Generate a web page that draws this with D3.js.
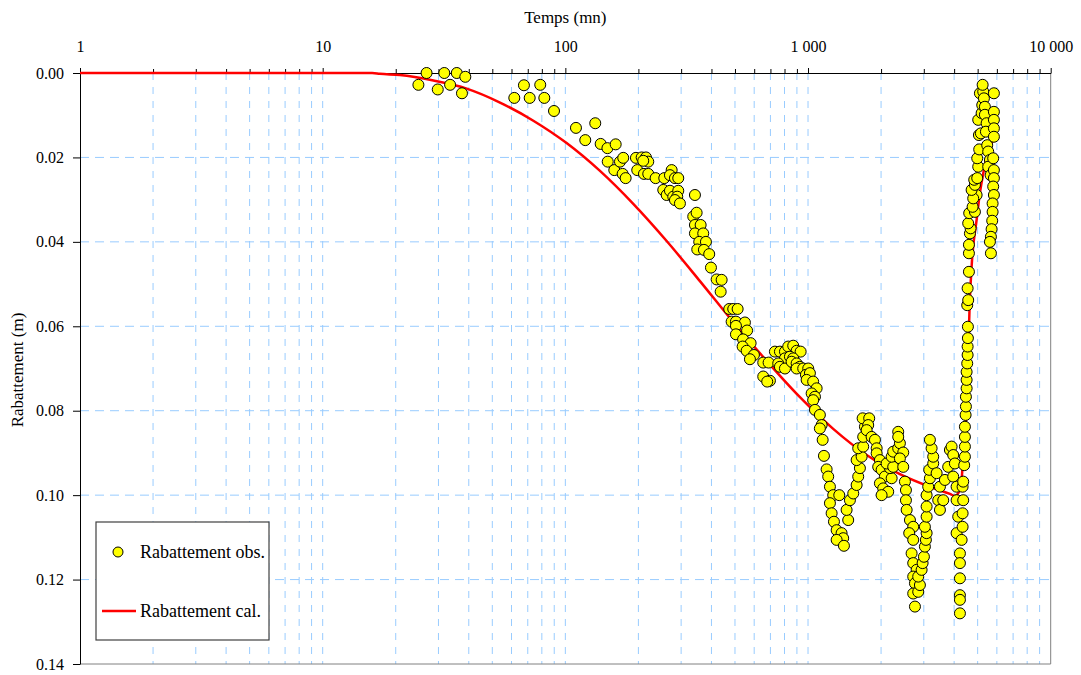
<!DOCTYPE html>
<html>
<head>
<meta charset="utf-8">
<script src="https://cdn.jsdelivr.net/npm/d3@7"></script>
<style>
  body { margin: 0; background: #fff; }
  text { font-family: "Liberation Serif", "Times New Roman", serif; fill: #000; }
</style>
</head>
<body>
<div id="chart"></div>
<script>
// calculated drawdown (red line)
var calT = [1, 16.0, 17.2, 20.8, 28.6, 39.2, 53.8, 73.8, 101.2, 138.9, 190.5, 261.5, 358.6, 491.8, 675, 926.1,
  1270, 1744, 2391, 3280, 3843, 4029,
  4226, 4310, 4393, 4503, 4571, 4615, 4722, 4951, 5109, 5272, 5408, 5617, 5795];
var calS = [0, 0, 0.0002, 0.0005, 0.0018, 0.0037, 0.0070, 0.0113, 0.0166, 0.0232, 0.0310, 0.0398, 0.0493, 0.0590, 0.0682, 0.0768,
  0.0843, 0.0905, 0.0950, 0.0983, 0.0997, 0.1002,
  0.0988, 0.0952, 0.0869, 0.0798, 0.0696, 0.0585, 0.0459, 0.0348, 0.0284, 0.0238, 0.0206, 0.0175, 0.0159];

// observed drawdown (yellow dots)
var obsT = [24.8, 26.8, 29.8, 31.7, 33.5, 35.7, 38.7, 37.5, 61.6, 67.5, 71.3, 78.8, 81.9, 89.8,
  110.6, 132.8, 120.8, 139.8, 149.1, 161.2, 149.5, 159.1, 167.9, 173.2, 172.2, 177.2, 195.4, 206.3, 214.9, 219.6, 209.4, 197.8, 210.8, 219.6,
  235.5, 255.6, 274.2, 269.8, 282.9, 291.9, 253.2, 261.5, 269.8, 278.4, 291.9, 289.1, 282.9, 296.6,
  342, 336.5, 347.5, 342, 361, 342, 370, 356.2, 379.6, 349.6, 372.4, 391.6, 398.1, 420.2, 440.6, 436.5,
  473.5, 491.8, 512.8, 484.4, 504.6, 549.5, 504.6, 561, 504.6, 540, 580, 537.7, 558.5, 598.5, 576.2, 653.8, 688, 653.8, 696.6, 679,
  730.4, 766, 803.4, 828.9, 869, 897.5, 932.2, 803.4, 842.3, 869, 753.7, 766, 803.4, 856, 897.5, 925, 897.5, 955.4, 1002, 980.2, 1018, 986.8,
  1050, 1085, 1035, 1068, 1050, 1068, 1119, 1138, 1119, 1149, 1163, 1193, 1211, 1231, 1270, 1345, 1231, 1251, 1279, 1312, 1375, 1396, 1312, 1406,
  1464, 1442, 1488, 1536, 1586, 1610, 1636, 1586, 1663, 1610, 1688, 1688, 1716, 1679, 1787, 1770, 1744,
  1828, 1887, 1918, 1918, 1978, 1946, 2010, 2074, 1978, 2041, 2140, 2010, 2211, 2175, 2108,
  2244, 2211, 2244, 2353, 2391, 2468, 2391, 2468, 2353, 2353,
  2508, 2532, 2532, 2549, 2630, 2713, 2612, 2713, 2672, 2713, 2803, 2713, 2758, 2713, 2758,
  2845, 2891, 2845, 2938, 2966, 3003, 3031, 3060, 3081, 3031, 3081, 3081, 3081, 3128, 3179, 3158, 3280, 3280, 3230, 3179,
  3388, 3496, 3440, 3496, 3607, 3665, 3781, 3843, 3905, 3965, 4029, 3965, 4095, 4095, 4158, 4095,
  4226, 4226, 4226, 4226, 4226, 4226, 4295, 4335, 4335, 4360, 4335, 4360,
  4401, 4431, 4431, 4431, 4431, 4460, 4473, 4473, 4503, 4503, 4503, 4529, 4546, 4546, 4558, 4558,
  4529, 4571, 4546, 4603, 4603, 4603, 4646, 4677, 4571, 4615, 4872, 4767, 4951, 4794, 4722, 4872, 4840, 4980, 5027, 4980,
  5075, 5061, 5157, 5027, 5192, 5222, 5109, 5272, 5242, 5306, 5356, 5356, 5444, 5408, 5475, 5527, 5617, 5527, 5654,
  5834, 5834, 5834, 5834, 5834, 5795, 5834, 5834, 5795, 5834, 5762, 5762, 5741, 5708, 5671, 5617, 5671];
var obsS = [0.0028, 0.0000, 0.0039, 0.0000, 0.0028, 0.0000, 0.0009, 0.0048, 0.0059, 0.0029, 0.0059, 0.0028, 0.0059, 0.0090,
  0.0130, 0.0119, 0.0159, 0.0168, 0.0178, 0.0169, 0.0210, 0.0230, 0.0210, 0.0201, 0.0239, 0.0249, 0.0201, 0.0200, 0.0200, 0.0210, 0.0208, 0.0230, 0.0239, 0.0239,
  0.0249, 0.0249, 0.0230, 0.0242, 0.0249, 0.0249, 0.0277, 0.0289, 0.0279, 0.0293, 0.0279, 0.0293, 0.0301, 0.0309,
  0.0289, 0.0340, 0.0331, 0.0360, 0.0360, 0.0380, 0.0380, 0.0400, 0.0400, 0.0418, 0.0419, 0.0429, 0.0461, 0.0489, 0.0490, 0.0518,
  0.0559, 0.0559, 0.0559, 0.0589, 0.0589, 0.0591, 0.0599, 0.0610, 0.0619, 0.0631, 0.0640, 0.0648, 0.0658, 0.0668, 0.0678, 0.0686, 0.0686, 0.0719, 0.0729, 0.0731,
  0.0660, 0.0660, 0.0660, 0.0648, 0.0646, 0.0658, 0.0660, 0.0676, 0.0672, 0.0676, 0.0688, 0.0696, 0.0700, 0.0684, 0.0688, 0.0696, 0.0700, 0.0700, 0.0700, 0.0715, 0.0711, 0.0727,
  0.0731, 0.0747, 0.0759, 0.0767, 0.0775, 0.0798, 0.0810, 0.0834, 0.0842, 0.0869, 0.0907, 0.0939, 0.0956, 0.0980, 0.1000, 0.1000, 0.1019, 0.1043, 0.1063, 0.1083, 0.1090, 0.1102, 0.1106, 0.1120,
  0.1059, 0.1035, 0.1012, 0.0996, 0.0976, 0.0956, 0.0936, 0.0917, 0.0909, 0.0889, 0.0885, 0.0862, 0.0838, 0.0818, 0.0818, 0.0834, 0.0846,
  0.0862, 0.0869, 0.0889, 0.0901, 0.0917, 0.0933, 0.0940, 0.0956, 0.0972, 0.0984, 0.0992, 0.1000, 0.0960, 0.0936, 0.0925,
  0.0933, 0.0909, 0.0897, 0.0889, 0.0877, 0.0899, 0.0913, 0.0933, 0.0850, 0.0862,
  0.0968, 0.0988, 0.1012, 0.1035, 0.1059, 0.1075, 0.1090, 0.1106, 0.1138, 0.1161, 0.1177, 0.1193, 0.1209, 0.1233, 0.1264,
  0.1229, 0.1213, 0.1193, 0.1177, 0.1161, 0.1146, 0.1122, 0.1106, 0.1090, 0.1075, 0.1051, 0.1027, 0.1000, 0.0980, 0.0960, 0.0940, 0.0925, 0.0909, 0.0889, 0.0869,
  0.0948, 0.0980, 0.1012, 0.1035, 0.1012, 0.0964, 0.0933, 0.0893, 0.0885, 0.0905, 0.0925, 0.0956, 0.0980, 0.1012, 0.1051, 0.1090,
  0.1138, 0.1161, 0.1197, 0.1237, 0.1248, 0.1280, 0.1106, 0.1075, 0.1043, 0.1012, 0.0980, 0.0968,
  0.0929, 0.0909, 0.0885, 0.0862, 0.0838, 0.0810, 0.0790, 0.0767, 0.0747, 0.0727, 0.0708, 0.0688, 0.0668, 0.0648, 0.0628, 0.0601,
  0.0550, 0.0538, 0.0510, 0.0471, 0.0427, 0.0407, 0.0380, 0.0368, 0.0356, 0.0332, 0.0329, 0.0317, 0.0289, 0.0297, 0.0277, 0.0265, 0.0253, 0.0249, 0.0222, 0.0202,
  0.0181, 0.0147, 0.0143, 0.0111, 0.0095, 0.0076, 0.0048, 0.0044, 0.0028, 0.0060, 0.0080, 0.0099, 0.0119, 0.0139, 0.0171, 0.0186, 0.0206, 0.0222, 0.0242,
  0.0048, 0.0092, 0.0111, 0.0131, 0.0151, 0.0202, 0.0230, 0.0249, 0.0269, 0.0289, 0.0309, 0.0329, 0.0350, 0.0370, 0.0388, 0.0400, 0.0427];

var xMajor = [1, 10, 100, 1000, 10000];
var xMajorLabels = ["1", "10", "100", "1 000", "10 000"];
var yTicks = [0, 0.02, 0.04, 0.06, 0.08, 0.10, 0.12, 0.14];
var legendLabels = ["Rabattement obs.", "Rabattement cal."];

// container
var svgWidth = 1081;
var svgHeight = 675;
var margin = { top: 73, right: 30.3, bottom: 11, left: 80 };
var width = svgWidth - margin.left - margin.right;
var height = svgHeight - margin.top - margin.bottom;

var svg = d3.select("#chart").append("svg")
  .attr("width", svgWidth)
  .attr("height", svgHeight);

var chartGroup = svg.append("g")
  .attr("transform", `translate(${margin.left}, ${margin.top})`);

// scales
var x = d3.scaleLog().domain([1, 10000]).range([0, width]);
var y = d3.scaleLinear().domain([0, 0.14]).range([0, height]);

var xAll = x.ticks();
var xMinor = xAll.filter(d => xMajor.indexOf(d) < 0);

// grid
chartGroup.append("g").selectAll("line").data(xAll.filter(d => d > 1 && d < 10000)).enter()
  .append("line")
  .attr("x1", d => x(d)).attr("x2", d => x(d))
  .attr("y1", 0).attr("y2", height)
  .attr("stroke", "#99ccff").attr("stroke-width", 1).attr("stroke-dasharray", "7,7");

chartGroup.append("g").selectAll("line").data(yTicks.filter(d => d > 0 && d < 0.14)).enter()
  .append("line")
  .attr("x1", 0).attr("x2", width)
  .attr("y1", d => y(d)).attr("y2", d => y(d))
  .attr("stroke", "#99ccff").attr("stroke-width", 1).attr("stroke-dasharray", "9,6");

// right and bottom frame
chartGroup.append("line").attr("x1", width).attr("x2", width).attr("y1", 0).attr("y2", height)
  .attr("stroke", "#808080");
chartGroup.append("line").attr("x1", 0).attr("x2", width).attr("y1", height).attr("y2", height)
  .attr("stroke", "#808080");

// axes
var topMinor = chartGroup.append("g")
  .call(d3.axisTop(x).tickValues(xMinor).tickSize(4).tickSizeOuter(0).tickFormat(""));
var topMajor = chartGroup.append("g")
  .call(d3.axisTop(x).tickValues(xMajor).tickSize(5).tickSizeOuter(0).tickPadding(16)
    .tickFormat((d, i) => xMajorLabels[i]));
var leftAxis = chartGroup.append("g")
  .call(d3.axisLeft(y).tickValues(yTicks).tickSize(7).tickSizeOuter(0).tickPadding(9)
    .tickFormat(d3.format(".2f")));

[topMinor, topMajor, leftAxis].forEach(function(g) {
  g.attr("font-family", "'Liberation Serif', 'Times New Roman', serif").attr("font-size", 16);
  g.selectAll("path").attr("stroke", "#000");
  g.selectAll("line").attr("stroke", "#000");
});
topMajor.selectAll("text").attr("dy", "0em");

// calculated line
var line = d3.line()
  .x(d => x(d[0]))
  .y(d => y(d[1]))
  .curve(d3.curveMonotoneX);

chartGroup.append("path")
  .datum(calT.map((t, i) => [t, calS[i]]))
  .attr("fill", "none")
  .attr("stroke", "#ff0000")
  .attr("stroke-width", 2.5)
  .attr("d", line);

// observed points
chartGroup.append("g").selectAll("circle")
  .data(obsT.map((t, i) => [t, obsS[i]]))
  .enter().append("circle")
  .attr("cx", d => x(d[0]))
  .attr("cy", d => y(d[1]))
  .attr("r", 5.5)
  .attr("fill", "#ffff00")
  .attr("stroke", "#000")
  .attr("stroke-width", 1);

// axis titles
svg.append("text")
  .attr("x", margin.left + width / 2)
  .attr("y", 23)
  .attr("text-anchor", "middle")
  .attr("font-size", 17)
  .text("Temps (mn)");

svg.append("text")
  .attr("transform", "translate(23, 370) rotate(-90)")
  .attr("text-anchor", "middle")
  .attr("font-size", 17)
  .text("Rabattement (m)");

// legend
var legend = svg.append("g").attr("transform", "translate(96, 522)");
legend.append("rect")
  .attr("width", 173).attr("height", 118)
  .attr("fill", "#fff").attr("stroke", "#404040").attr("stroke-width", 1.2);
legend.append("circle")
  .attr("cx", 22).attr("cy", 30).attr("r", 5)
  .attr("fill", "#ffff00").attr("stroke", "#000");
legend.append("text").attr("x", 44).attr("y", 36).attr("font-size", 18).text(legendLabels[0]);
legend.append("line")
  .attr("x1", 6).attr("x2", 40).attr("y1", 89).attr("y2", 89)
  .attr("stroke", "#ff0000").attr("stroke-width", 2.5);
legend.append("text").attr("x", 44).attr("y", 95).attr("font-size", 18).text(legendLabels[1]);
</script>
</body>
</html>
